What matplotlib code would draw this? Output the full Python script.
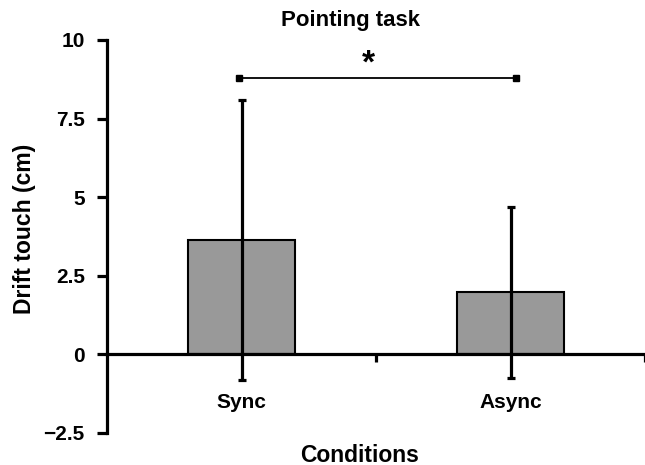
import matplotlib.pyplot as plt
import numpy as np

plt.rcParams['font.family'] = ['Liberation Sans', 'DejaVu Sans']
plt.rcParams['font.weight'] = 'bold'

# data
conditions = ["Sync", "Async"]
means = [3.63, 1.97]
errors = [4.46, 2.71]
yticks = [-2.5, 0, 2.5, 5, 7.5, 10]
ytick_labels = ["\u22122.5", "0", "2.5", "5", "7.5", "10"]
sig_y = 8.8
sig_label = "*"

fig = plt.figure(figsize=(6.45, 4.65), dpi=100)
ax = fig.add_axes([0.166, 0.069, 0.834, 0.845])

x = np.arange(len(conditions))
ax.bar(x, means, width=0.4, color='#999999', edgecolor='black', linewidth=1.5, zorder=2)
ax.errorbar(x, means, yerr=errors, fmt='none', ecolor='black', elinewidth=2.3,
            capsize=3, capthick=2.3, zorder=3)

# significance bracket
ax.plot([x[0] - 0.01, x[1] + 0.02], [sig_y, sig_y], color='black', lw=1.3,
        marker='s', markersize=5, zorder=3)
ax.text(0.47, sig_y - 0.05, sig_label, ha='center', va='bottom', fontsize=24, fontweight='bold')

ax.set_xlim(-0.5, 1.5)
ax.set_ylim(-2.5, 10)
ax.set_yticks(yticks)
ax.set_yticklabels(ytick_labels)
ax.set_xticks(x)
ax.set_xticklabels(conditions)
ax.set_xticks([0.5, 1.5], minor=True)
ax.tick_params(axis='x', which='major', length=0, pad=28, labelsize=15)
ax.tick_params(axis='x', which='minor', length=6, width=2.3, direction='out')
ax.tick_params(axis='y', length=7, width=2.3, direction='out', pad=9, labelsize=15)
for lab in ax.get_xticklabels() + ax.get_yticklabels():
    lab.set_fontweight('bold')

ax.spines['top'].set_visible(False)
ax.spines['right'].set_visible(False)
ax.spines['bottom'].set_position(('data', 0))
ax.spines['bottom'].set_linewidth(2.3)
ax.spines['left'].set_linewidth(2.3)

ax.set_ylabel("Drift touch (cm)", fontsize=16.5, fontweight='bold')
ax.yaxis.set_label_coords(-0.132, 0.52)
fig.text(0.558, 0.0215, "Conditions", ha='center', va='center', fontsize=16.5, fontweight='bold')
fig.text(0.543, 0.955, "Pointing task", ha='center', va='center', fontsize=16, fontweight='bold')

fig.savefig("out.png", dpi=100)
